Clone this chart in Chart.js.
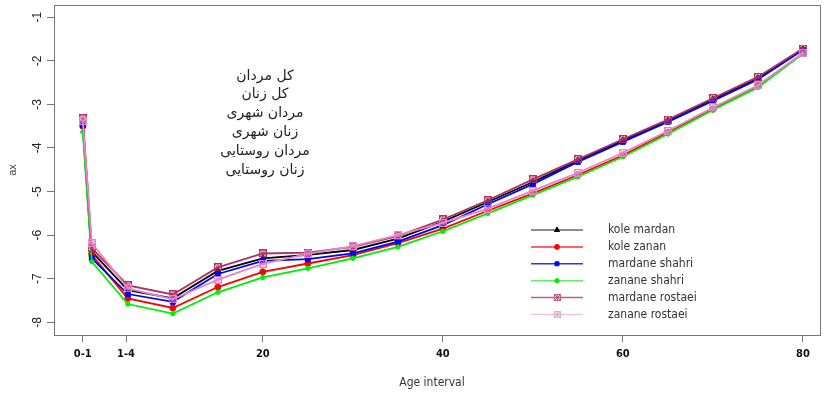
<!DOCTYPE html>
<html lang="en">
<head>
    <meta charset="UTF-8">
    <title>ax by age interval</title>
    <script src="https://cdn.jsdelivr.net/npm/chart.js"></script>
    <style>
        html, body { margin: 0; padding: 0; background: #fff; }
        #wrap { width: 825px; height: 394px; position: relative; }
    </style>
</head>
<body>
<div id="wrap"><canvas id="axChart" width="825" height="394"></canvas></div>
<script>
// data
const ages = [0, 1, 5, 10, 15, 20, 25, 30, 35, 40, 45, 50, 55, 60, 65, 70, 75, 80];
const koleMardan     = [-3.42, -6.38, -7.26, -7.45, -6.82, -6.53, -6.45, -6.34, -6.08, -5.69, -5.24, -4.78, -4.29, -3.83, -3.37, -2.89, -2.40, -1.74];
const koleZanan      = [-3.50, -6.45, -7.45, -7.67, -7.19, -6.84, -6.65, -6.46, -6.18, -5.85, -5.44, -5.04, -4.62, -4.17, -3.64, -3.11, -2.58, -1.83];
const mardaneShahri  = [-3.48, -6.53, -7.35, -7.53, -6.89, -6.59, -6.55, -6.42, -6.15, -5.77, -5.29, -4.83, -4.32, -3.86, -3.40, -2.92, -2.43, -1.75];
const zananeShahri   = [-3.63, -6.61, -7.58, -7.80, -7.31, -6.97, -6.76, -6.53, -6.27, -5.91, -5.50, -5.08, -4.66, -4.20, -3.68, -3.13, -2.61, -1.84];
const mardaneRostaei = [-3.32, -6.30, -7.15, -7.36, -6.74, -6.42, -6.40, -6.27, -6.02, -5.64, -5.20, -4.72, -4.26, -3.80, -3.35, -2.86, -2.37, -1.72];
const zananeRostaei  = [-3.38, -6.18, -7.22, -7.47, -7.02, -6.66, -6.43, -6.25, -6.00, -5.72, -5.39, -4.98, -4.57, -4.11, -3.61, -3.07, -2.56, -1.82];

const seriesNames = ['kole mardan', 'kole zanan', 'mardane shahri', 'zanane shahri', 'mardane rostaei', 'zanane rostaei'];
const persianNames = ['کل مردان', 'کل زنان', 'مردان شهری', 'زنان شهری', 'مردان روستایی', 'زنان روستایی'];

const xTickValues = [0, 4.8, 20, 40, 60, 80];
const xTickLabels = ['0-1', '1-4', '20', '40', '60', '80'];
const yTickValues = [-8, -7, -6, -5, -4, -3, -2, -1];

const narrow = "'Liberation Sans Narrow', 'DejaVu Sans Condensed', Arial, sans-serif";

// box-with-star marker like R's pch for the rural series
function makeMarker(color, size) {
    const c = document.createElement('canvas');
    c.width = size; c.height = size;
    const g = c.getContext('2d');
    const e = size - 0.5;
    const m = size / 2;
    g.strokeStyle = color;
    g.lineWidth = 1;
    g.strokeRect(0.5, 0.5, size - 1, size - 1);
    g.beginPath();
    g.moveTo(0.5, 0.5); g.lineTo(e, e);
    g.moveTo(e, 0.5); g.lineTo(0.5, e);
    g.moveTo(m, 0.5); g.lineTo(m, e);
    g.moveTo(0.5, m); g.lineTo(e, m);
    g.stroke();
    return c;
}

const colors = ['#000000', '#ff0000', '#0000ff', '#00ee00', '#b03060', '#e586c8'];
const legendColors = ['#666666', '#ff3030', '#3030ff', '#66ee66', '#c06080', '#f2c2e6'];
const styles = ['triangle', 'circle', 'rect', 'circle', makeMarker('#b03060', 8), makeMarker('#e586c8', 8)];
const legendStyles = ['triangle', 'circle', 'rect', 'circle', makeMarker('#c06080', 7), makeMarker('#eaa8d8', 7)];
const radii = [3.5, 3, 3.5, 2.2, 4, 4];
const legendRadii = [3, 2.5, 2.8, 2.2, 3.5, 3.5];
const values = [koleMardan, koleZanan, mardaneShahri, zananeShahri, mardaneRostaei, zananeRostaei];

const datasets = values.map((vals, i) => ({
    label: seriesNames[i],
    data: ages.map((a, k) => ({ x: a, y: vals[k] })),
    borderColor: colors[i],
    backgroundColor: colors[i],
    borderWidth: 1.8,
    pointStyle: styles[i],
    pointRadius: radii[i],
    pointBorderWidth: 1,
    order: 6 - i,
    tension: 0
}));

// frame, rotated y labels, legend and persian notes
const extras = {
    id: 'extras',
    afterDraw(chart) {
        const ctx = chart.ctx;
        const a = chart.chartArea;
        ctx.save();
        ctx.strokeStyle = '#777';
        ctx.lineWidth = 1;
        ctx.strokeRect(Math.round(a.left) + 0.5, Math.round(a.top) + 0.5, Math.round(a.right - a.left), Math.round(a.bottom - a.top));

        // y tick labels, rotated as in R
        const ys = chart.scales.y;
        ctx.fillStyle = '#222';
        ctx.font = '12px Arial, "Liberation Sans", sans-serif';
        ctx.textAlign = 'center';
        ctx.textBaseline = 'middle';
        yTickValues.forEach(v => {
            ctx.save();
            ctx.translate(38, ys.getPixelForValue(v));
            ctx.rotate(-Math.PI / 2);
            ctx.fillText(String(v), 0, 0);
            ctx.restore();
        });
        ctx.save();
        ctx.fillStyle = '#444';
        ctx.font = '11px Arial, "Liberation Sans", sans-serif';
        ctx.translate(13, (a.top + a.bottom) / 2);
        ctx.rotate(-Math.PI / 2);
        ctx.fillText('ax', 0, 0);
        ctx.restore();

        // x title
        ctx.fillStyle = '#333';
        ctx.font = '12px ' + narrow;
        ctx.fillText('Age interval', 432, 383);

        // legend
        ctx.font = '12px ' + narrow;
        chart.data.datasets.forEach((ds, i) => {
            const y = 230 + i * 16.9;
            ctx.strokeStyle = legendColors[i];
            ctx.lineWidth = 1.5;
            ctx.beginPath();
            ctx.moveTo(531, y);
            ctx.lineTo(583, y);
            ctx.stroke();
            const st = legendStyles[i];
            if (st instanceof HTMLCanvasElement) {
                ctx.drawImage(st, Math.round(557 - st.width / 2), Math.round(y - st.height / 2));
            } else {
                ctx.fillStyle = ds.backgroundColor;
                ctx.strokeStyle = ds.borderColor;
                ctx.lineWidth = 1;
                Chart.helpers.drawPoint(ctx, {
                    pointStyle: st, radius: legendRadii[i], borderWidth: 1, rotation: 0
                }, 557, y);
            }
            ctx.fillStyle = '#333';
            ctx.textAlign = 'left';
            ctx.fillText(ds.label, 608, y);
        });

        // persian notes
        ctx.fillStyle = '#222';
        ctx.textAlign = 'center';
        ctx.font = '14px "DejaVu Serif", "DejaVu Sans", serif';
        ctx.direction = 'rtl';
        persianNames.forEach((t, i) => {
            ctx.fillText(t, 265, 76 + i * 18.8);
        });
        ctx.restore();
    }
};

new Chart(document.getElementById('axChart').getContext('2d'), {
    type: 'line',
    data: { datasets: datasets },
    options: {
        responsive: false,
        animation: false,
        layout: { padding: { top: 5, right: 3, left: 0, bottom: 0 } },
        plugins: {
            legend: { display: false },
            tooltip: { enabled: false }
        },
        scales: {
            x: {
                type: 'linear',
                min: -3.2,
                max: 81.9,
                afterFit: s => { s.height = 59; s.paddingRight = 0; s.paddingLeft = 0; },
                afterBuildTicks: s => { s.ticks = xTickValues.map(v => ({ value: v })); },
                ticks: {
                    autoSkip: false,
                    maxRotation: 0,
                    padding: 6,
                    color: '#111',
                    font: { family: narrow, size: 11, weight: 'bold' },
                    callback: (v, i) => xTickLabels[i]
                },
                grid: { drawOnChartArea: false, drawTicks: true, tickLength: 7, color: '#777' },
                border: { display: true, color: '#777' }
            },
            y: {
                type: 'linear',
                min: -8.29,
                max: -0.72,
                afterFit: s => { s.width = 54; s.paddingTop = 0; s.paddingBottom = 0; },
                afterBuildTicks: s => { s.ticks = yTickValues.map(v => ({ value: v })); },
                ticks: { display: false },
                grid: { drawOnChartArea: false, drawTicks: true, tickLength: 7, color: '#777' },
                border: { display: true, color: '#777' }
            }
        }
    },
    plugins: [extras]
});
</script>
</body>
</html>
